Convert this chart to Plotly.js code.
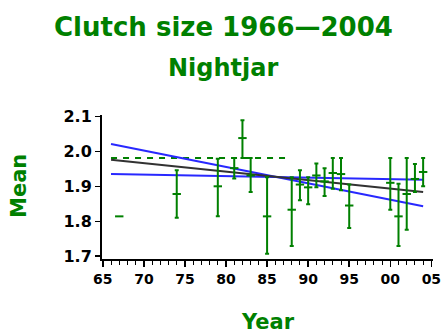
<!DOCTYPE html>
<html>
<head>
<meta charset="utf-8">
<script src="https://cdn.plot.ly/plotly-3.0.1.min.js"></script>
<style>html,body{margin:0;padding:0;background:#fff;}#chart{width:447px;height:335px;}</style>
</head>
<body>
<div id="chart"></div>
<script>
// Data
var years = [1967, 1974, 1979, 1981, 1982, 1983, 1985, 1988, 1989, 1990, 1991, 1992, 1993, 1994, 1995, 2000, 2001, 2002, 2003, 2004];
var means = [1.814, 1.878, 1.900, 1.952, 2.038, 1.931, 1.814, 1.833, 1.905, 1.897, 1.931, 1.914, 1.938, 1.935, 1.845, 1.910, 1.814, 1.878, 1.921, 1.941];
var upper = [null, 1.946, 1.979, 1.981, 2.089, 1.981, 1.926, 1.926, 1.946, 1.926, 1.965, 1.952, 1.981, 1.981, 1.905, 1.981, 1.907, 1.981, 1.964, 1.981];
var lower = [null, 1.810, 1.814, 1.922, 1.981, 1.884, 1.707, 1.729, 1.860, 1.849, 1.897, 1.872, 1.893, 1.889, 1.781, 1.833, 1.729, 1.776, 1.884, 1.900];

var trendYears = [1966, 2004];
var trendMean = [1.976, 1.884];
var boundA = [2.021, 1.843];
var boundB = [1.935, 1.919];
var refYears = [1966, 1987.5];
var refLevel = [1.981, 1.981];

var xTickVals = [1965, 1970, 1975, 1980, 1985, 1990, 1995, 2000, 2005];
var xTickText = ['65', '70', '75', '80', '85', '90', '95', '00', '05'];
var yTickVals = [1.7, 1.8, 1.9, 2.0, 2.1];
var yTickText = ['1.7', '1.8', '1.9', '2.0', '2.1'];

var GREEN = 'rgb(0,128,0)';
var errPlus = means.map(function (m, i) { return upper[i] == null ? NaN : upper[i] - m; });
var errMinus = means.map(function (m, i) { return lower[i] == null ? NaN : m - lower[i]; });

var traces = [
  {x: refYears, y: refLevel, mode: 'lines', line: {color: GREEN, width: 2, dash: '6px,6px'}, hoverinfo: 'skip'},
  {x: trendYears, y: boundB, mode: 'lines', line: {color: 'rgb(40,40,255)', width: 2}},
  {x: trendYears, y: boundA, mode: 'lines', line: {color: 'rgb(40,40,255)', width: 2}},
  {x: trendYears, y: trendMean, mode: 'lines', line: {color: 'rgb(50,50,50)', width: 2}},
  {x: years, y: means, mode: 'markers', type: 'scatter',
   marker: {symbol: 'line-ew', size: 6, color: GREEN, line: {color: GREEN, width: 2}},
   error_y: {type: 'data', symmetric: false, array: errPlus, arrayminus: errMinus, color: GREEN, thickness: 2, width: 2}}
];

var layout = {
  width: 447, height: 335,
  margin: {l: 102, r: 14, t: 115, b: 76},
  paper_bgcolor: '#fff', plot_bgcolor: '#fff',
  showlegend: false,
  xaxis: {
    range: [1964.9, 2005.2], tickvals: xTickVals, ticktext: xTickText,
    showgrid: false, zeroline: false, showline: true, linecolor: '#000', linewidth: 2,
    ticks: 'outside', ticklen: 6, tickwidth: 1.5, tickcolor: '#000',
    minor: {dtick: 1, ticks: 'outside', ticklen: 4, tickwidth: 1, tickcolor: '#000', showgrid: false},
    tickfont: {family: 'DejaVu Sans', size: 14, color: '#000', weight: 'bold'}
  },
  yaxis: {
    range: [1.692, 2.104], tickvals: yTickVals, ticktext: yTickText,
    showgrid: false, zeroline: false, showline: true, linecolor: '#000', linewidth: 2,
    ticks: 'outside', ticklen: 5, tickwidth: 1.5, tickcolor: '#000',
    tickfont: {family: 'DejaVu Sans', size: 16, color: '#000', weight: 'bold'}
  },
  annotations: [
    {text: 'Clutch size 1966\u20142004', xref: 'paper', yref: 'paper', x: 0.366, y: (259 - 27) / 144, xanchor: 'center', yanchor: 'middle', showarrow: false,
     font: {family: 'DejaVu Sans', size: 26, color: GREEN, weight: 'bold'}},
    {text: 'Nightjar', xref: 'paper', yref: 'paper', x: 0.366, y: (259 - 68) / 144, xanchor: 'center', yanchor: 'middle', showarrow: false,
     font: {family: 'DejaVu Sans', size: 24, color: GREEN, weight: 'bold'}},
    {text: 'Year', xref: 'paper', yref: 'paper', x: 0.5, y: (259 - 322) / 144, xanchor: 'center', yanchor: 'middle', showarrow: false,
     font: {family: 'DejaVu Sans', size: 21, color: GREEN, weight: 'bold'}},
    {text: 'Mean', xref: 'paper', yref: 'paper', x: (19 - 102) / 331, y: (259 - 186) / 144, xanchor: 'center', yanchor: 'middle', showarrow: false, textangle: -90,
     font: {family: 'DejaVu Sans', size: 21, color: GREEN, weight: 'bold'}}
  ]
};

Plotly.newPlot('chart', traces, layout, {displayModeBar: false, staticPlot: true});
</script>
</body>
</html>
